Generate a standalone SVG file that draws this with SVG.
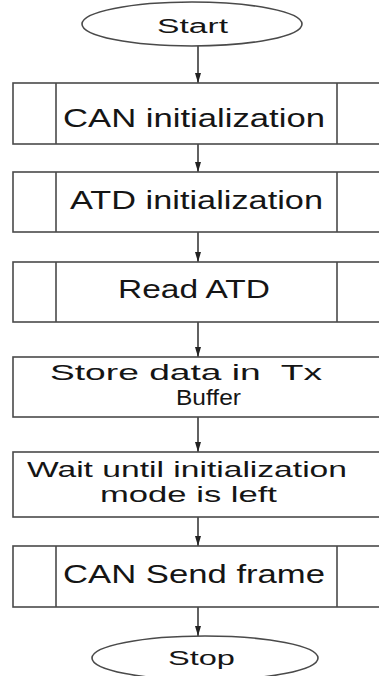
<svg xmlns="http://www.w3.org/2000/svg" width="379" height="676" viewBox="0 0 379 676">
<defs>
<style>
.shape{fill:#fff;stroke:#4a4a4a;stroke-width:1.6}
.inner{stroke:#4a4a4a;stroke-width:1.6;fill:none}
.lbl{font-family:"Liberation Sans",Arial,sans-serif;font-size:26px;fill:#151515;white-space:pre}
.two{font-size:22px}
.term{font-family:"Liberation Sans",Arial,sans-serif;font-size:20px;fill:#151515}
.conn{stroke:#3a3a3a;stroke-width:1.6;fill:none;marker-end:url(#ah)}
</style>
<marker id="ah" viewBox="0 0 10 6" refX="10" refY="3" markerWidth="10" markerHeight="6" markerUnits="userSpaceOnUse" orient="auto">
<path d="M0,0 L10,3 L0,6 Z" fill="#222"/>
</marker>
</defs>
<rect width="379" height="676" fill="#fff"/>
<g id="connectors">
<line class="conn" x1="198" y1="46" x2="198" y2="83"/>
<line class="conn" x1="198" y1="144" x2="198" y2="172"/>
<line class="conn" x1="198" y1="232" x2="198" y2="262"/>
<line class="conn" x1="198" y1="322" x2="198" y2="357"/>
<line class="conn" x1="198" y1="417" x2="198" y2="452"/>
<line class="conn" x1="198" y1="517" x2="198" y2="546"/>
<line class="conn" x1="198" y1="607" x2="198" y2="636"/>
</g>
<g id="start">
<ellipse class="shape" cx="192" cy="24" rx="110" ry="22"/>
<text class="term" x="157" y="33" textLength="71" lengthAdjust="spacingAndGlyphs">Start</text>
</g>
<g id="can-init">
<rect class="shape" x="13" y="83" width="380" height="61"/>
<line class="inner" x1="56" y1="83" x2="56" y2="144"/>
<line class="inner" x1="337" y1="83" x2="337" y2="144"/>
<text class="lbl" x="63" y="127" textLength="262" lengthAdjust="spacingAndGlyphs">CAN initialization</text>
</g>
<g id="atd-init">
<rect class="shape" x="13" y="172" width="380" height="60"/>
<line class="inner" x1="56" y1="172" x2="56" y2="232"/>
<line class="inner" x1="337" y1="172" x2="337" y2="232"/>
<text class="lbl" x="70" y="209" textLength="253" lengthAdjust="spacingAndGlyphs">ATD initialization</text>
</g>
<g id="read-atd">
<rect class="shape" x="13" y="262" width="380" height="60"/>
<line class="inner" x1="56" y1="262" x2="56" y2="322"/>
<line class="inner" x1="337" y1="262" x2="337" y2="322"/>
<text class="lbl" x="118" y="298" textLength="152" lengthAdjust="spacingAndGlyphs">Read ATD</text>
</g>
<g id="store-data">
<rect class="shape" x="13" y="357" width="380" height="60"/>
<text class="lbl two" x="50" y="380" textLength="272" lengthAdjust="spacingAndGlyphs">Store data in  Tx</text>
<text class="lbl two" x="176" y="405" textLength="65" lengthAdjust="spacingAndGlyphs">Buffer</text>
</g>
<g id="wait-init">
<rect class="shape" x="13" y="452" width="380" height="65"/>
<text class="lbl two" x="27" y="477" textLength="320" lengthAdjust="spacingAndGlyphs">Wait until initialization</text>
<text class="lbl two" x="100" y="502" textLength="177" lengthAdjust="spacingAndGlyphs">mode is left</text>
</g>
<g id="can-send">
<rect class="shape" x="13" y="546" width="380" height="61"/>
<line class="inner" x1="56" y1="546" x2="56" y2="607"/>
<line class="inner" x1="337" y1="546" x2="337" y2="607"/>
<text class="lbl" x="63" y="583" textLength="262" lengthAdjust="spacingAndGlyphs">CAN Send frame</text>
</g>
<g id="stop">
<ellipse class="shape" cx="205" cy="658" rx="113" ry="22"/>
<text class="term" x="168" y="665" textLength="67" lengthAdjust="spacingAndGlyphs">Stop</text>
</g>
</svg>
